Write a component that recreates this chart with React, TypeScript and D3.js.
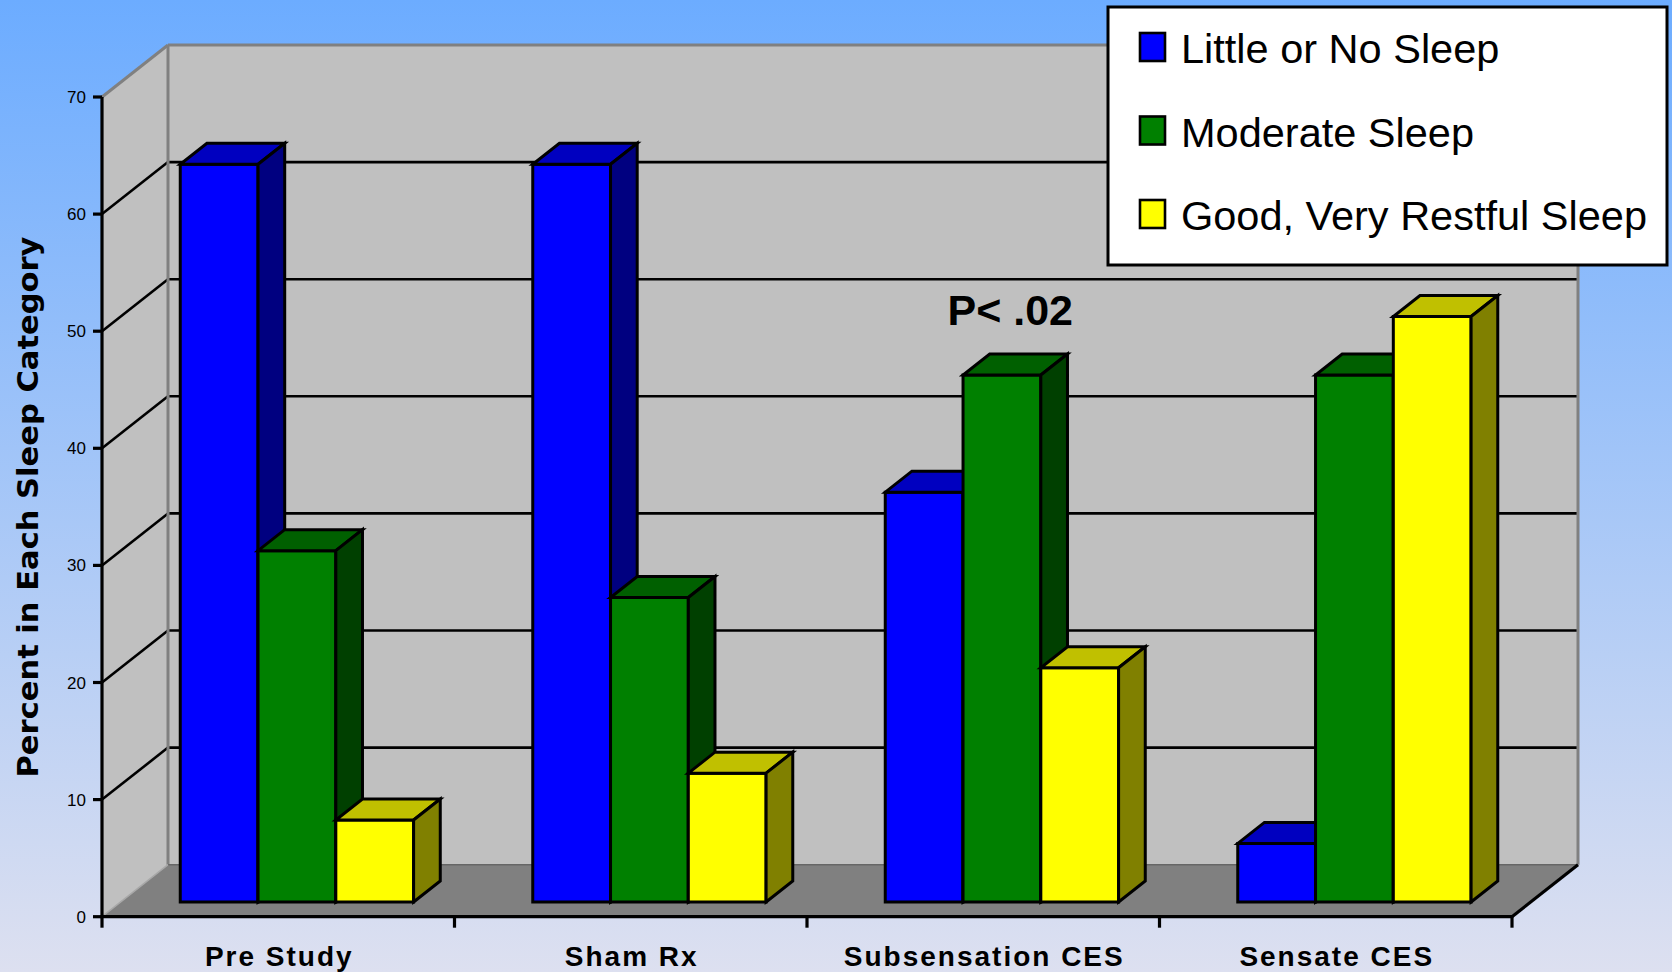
import React from "react";
import * as d3 from "d3";

// Sleep-quality distribution per treatment group (percent of subjects)
const categories = ["Pre Study", "Sham Rx", "Subsensation CES", "Sensate CES"];
const seriesNames = ["Little or No Sleep", "Moderate Sleep", "Good, Very Restful Sleep"];
const littleOrNoSleep = [63, 63, 35, 5];
const moderateSleep = [30, 26, 45, 45];
const goodRestfulSleep = [7, 11, 20, 50];
const yTicks = [0, 10, 20, 30, 40, 50, 60, 70];
const annotation = "P< .02";

const seriesValues = [littleOrNoSleep, moderateSleep, goodRestfulSleep];

// front / top / side shades for each series
const palette = [
  { front: "#0000FF", top: "#0000C0", side: "#000080" },
  { front: "#008000", top: "#006000", side: "#004000" },
  { front: "#FFFF00", top: "#C0C000", side: "#808000" },
];

const W = 1672;
const H = 972;

// plot frame (front plane) and the 3-D depth offset
const X0 = 102;
const X1 = 1512;
const DX = 66;
const DY = -52;
const BAR_F1 = 0.283; // depth fraction of bar front face
const BAR_F2 = 0.687; // depth fraction of bar back face

export default function App() {
  const y = d3.scaleLinear().domain([0, 70]).range([916.7, 97]);
  const xCat = d3.scaleBand<string>().domain(categories).range([X0, X1]).padding(0);
  const xSer = d3
    .scaleBand<string>()
    .domain(seriesNames)
    .range([0, xCat.bandwidth()])
    .paddingInner(0)
    .paddingOuter(0.766);

  const p = (xf: number, v: number, f: number): [number, number] => [xf + f * DX, y(v) + f * DY];
  const poly = (pts: [number, number][]) => pts.map((q) => q.join(",")).join(" ");

  const yBack = (v: number) => y(v) + DY;
  const backLeft = X0 + DX;
  const backRight = X1 + DX;

  const bars: JSX.Element[] = [];
  categories.forEach((c, ci) => {
    seriesNames.forEach((s, si) => {
      const v = seriesValues[si][ci];
      const x0 = (xCat(c) as number) + (xSer(s) as number);
      const x1 = x0 + xSer.bandwidth();
      const col = palette[si];
      const front = [p(x0, 0, BAR_F1), p(x1, 0, BAR_F1), p(x1, v, BAR_F1), p(x0, v, BAR_F1)];
      const top = [p(x0, v, BAR_F1), p(x1, v, BAR_F1), p(x1, v, BAR_F2), p(x0, v, BAR_F2)];
      const side = [p(x1, 0, BAR_F1), p(x1, 0, BAR_F2), p(x1, v, BAR_F2), p(x1, v, BAR_F1)];
      bars.push(
        <g key={`${ci}-${si}`} stroke="#000" strokeWidth={3} strokeLinejoin="miter">
          <polygon points={poly(front)} fill={col.front} />
          <polygon points={poly(top)} fill={col.top} />
          <polygon points={poly(side)} fill={col.side} />
        </g>
      );
    });
  });

  const gridVals = yTicks.filter((t) => t > 0 && t < 70);
  const subCat = categories[2];
  const annotX = (xCat(subCat) as number) + xCat.bandwidth() / 2 + 27;

  return (
    <svg
      width={W}
      height={H}
      style={{ position: "absolute", left: 0, top: 0 }}
      xmlns="http://www.w3.org/2000/svg"
    >
      <defs>
        <linearGradient id="bg" x1="0" y1="0" x2="0" y2="1">
          <stop offset="0" stopColor="#6CACFF" />
          <stop offset="1" stopColor="#DDE0F0" />
        </linearGradient>
      </defs>
      <rect x={0} y={0} width={W} height={H} fill="url(#bg)" />

      {/* back wall */}
      <rect
        x={backLeft}
        y={yBack(70)}
        width={backRight - backLeft}
        height={yBack(0) - yBack(70)}
        fill="#C0C0C0"
      />
      {/* side wall */}
      <polygon
        points={poly([
          [X0, y(70)],
          [backLeft, yBack(70)],
          [backLeft, yBack(0)],
          [X0, y(0)],
        ])}
        fill="#C0C0C0"
      />
      {/* floor */}
      <polygon
        points={poly([
          [X0, y(0)],
          [X1, y(0)],
          [backRight, yBack(0)],
          [backLeft, yBack(0)],
        ])}
        fill="#808080"
      />

      {/* gridlines */}
      {gridVals.map((t) => (
        <g key={t} stroke="#000" strokeWidth={2.6}>
          <line x1={X0} y1={y(t)} x2={backLeft} y2={yBack(t)} />
          <line x1={backLeft} y1={yBack(t)} x2={backRight} y2={yBack(t)} />
        </g>
      ))}

      {/* wall edges */}
      <g stroke="#808080" strokeWidth={3} fill="none">
        <line x1={X0} y1={y(70)} x2={backLeft} y2={yBack(70)} />
        <line x1={backLeft} y1={yBack(70)} x2={backRight} y2={yBack(70)} />
        <line x1={backLeft} y1={yBack(70)} x2={backLeft} y2={yBack(0)} />
        <line x1={backRight} y1={yBack(70)} x2={backRight} y2={yBack(0)} />
      </g>
      <line x1={backLeft} y1={yBack(0)} x2={backRight} y2={yBack(0)} stroke="#666" strokeWidth={1.5} />
      <line x1={X0} y1={y(0)} x2={backLeft} y2={yBack(0)} stroke="#A8A8A8" strokeWidth={1.5} />

      {/* bars */}
      {bars}

      {/* axes */}
      <g stroke="#000" strokeWidth={3.2}>
        <line x1={X0} y1={y(70)} x2={X0} y2={y(0)} />
        <line x1={X0 - 1.5} y1={y(0)} x2={X1} y2={y(0)} />
        <line x1={X1} y1={y(0)} x2={backRight} y2={yBack(0)} />
        {yTicks.map((t) => (
          <line key={t} x1={X0 - 9} y1={y(t)} x2={X0} y2={y(t)} />
        ))}
        {[...categories.map((c) => xCat(c) as number), X1].map((xv, i) => (
          <line key={i} x1={xv} y1={y(0)} x2={xv} y2={y(0) + 11} />
        ))}
      </g>

      {/* y tick labels */}
      <g fontFamily="'Liberation Sans', Arial, sans-serif" fontSize={17} fill="#000" textAnchor="end">
        {yTicks.map((t) => (
          <text key={t} x={86} y={y(t) + 6}>
            {t}
          </text>
        ))}
      </g>

      {/* category labels */}
      <g
        fontFamily="'Liberation Sans', Arial, sans-serif"
        fontSize={28}
        fontWeight="bold"
        fill="#000"
        textAnchor="middle"
        letterSpacing={2}
      >
        {categories.map((c) => (
          <text key={c} x={(xCat(c) as number) + xCat.bandwidth() / 2 + 1} y={966}>
            {c}
          </text>
        ))}
      </g>

      {/* y axis title */}
      <text
        transform="translate(38,507) rotate(-90)"
        textAnchor="middle"
        fontFamily="'DejaVu Sans', sans-serif"
        fontWeight="bold"
        fontSize={29}
        textLength={541}
        lengthAdjust="spacingAndGlyphs"
        fill="#000"
      >
        Percent in Each Sleep Category
      </text>

      {/* significance annotation */}
      <text
        x={annotX}
        y={325}
        textAnchor="middle"
        fontFamily="'Liberation Sans', Arial, sans-serif"
        fontWeight="bold"
        fontSize={43}
        fill="#000"
      >
        {annotation}
      </text>

      {/* legend */}
      <g>
        <rect x={1108} y={7} width={559} height={258} fill="#FFF" stroke="#000" strokeWidth={3} />
        {seriesNames.map((s, i) => {
          const base = 63 + i * 83.5;
          return (
            <g key={s}>
              <rect
                x={1140}
                y={base - 30}
                width={25}
                height={28}
                fill={palette[i].front}
                stroke="#000"
                strokeWidth={2.6}
              />
              <text
                x={1181}
                y={base}
                fontFamily="'Liberation Sans', Arial, sans-serif"
                fontSize={41.5}
                fill="#000"
              >
                {s}
              </text>
            </g>
          );
        })}
      </g>
    </svg>
  );
}
